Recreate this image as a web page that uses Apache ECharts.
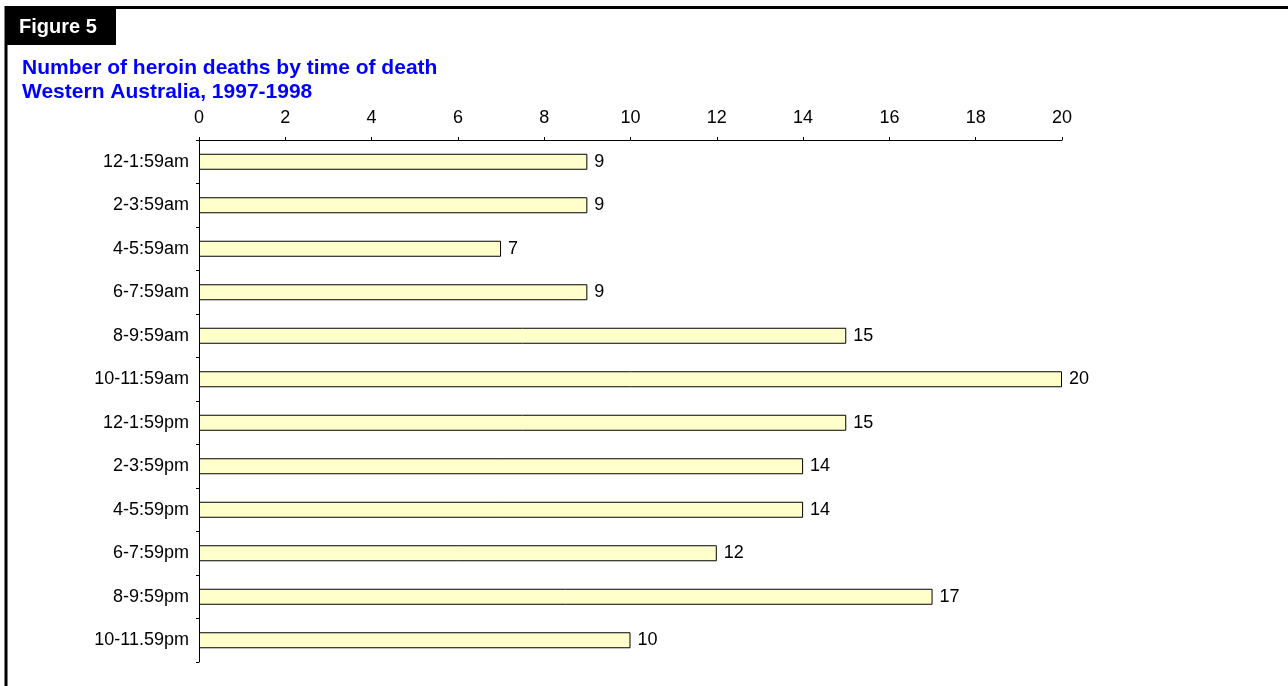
<!DOCTYPE html>
<html>
<head>
<meta charset="utf-8">
<script src="https://cdn.jsdelivr.net/npm/echarts@6/dist/echarts.min.js"></script>
<style>
  html, body { margin: 0; padding: 0; background: #fff; }
  #chart { width: 1288px; height: 686px; }
</style>
</head>
<body>
<div id="chart"></div>
<script>
// 时间段 和 死亡人数
const timeSlots = ['12-1:59am', '2-3:59am', '4-5:59am', '6-7:59am', '8-9:59am', '10-11:59am',
  '12-1:59pm', '2-3:59pm', '4-5:59pm', '6-7:59pm', '8-9:59pm', '10-11.59pm']
const deaths = [9, 9, 7, 9, 15, 20, 15, 14, 14, 12, 17, 10]
const titleLines = ['Number of heroin deaths by time of death', 'Western Australia, 1997-1998']
const figureLabel = 'Figure 5'

let myChart = echarts.init(document.getElementById('chart'))

let option = {
  animation: false,
  textStyle: { fontFamily: 'Liberation Sans, Arial, sans-serif' },
  graphic: [
    // 外框
    { type: 'rect', shape: { x: 6, y: 7.5, width: 1300, height: 700 }, style: { fill: 'none', stroke: '#000', lineWidth: 3 } },
    { type: 'rect', shape: { x: 6, y: 7, width: 110, height: 38 }, style: { fill: '#000' } },
    {
      type: 'text', left: 19, top: 17,
      style: { text: figureLabel, fill: '#fff', font: 'bold 20px Liberation Sans, Arial, sans-serif' }
    },
    {
      type: 'text', left: 22, top: 56,
      style: { text: titleLines.join('\n'), fill: '#0000ff', font: 'bold 21px Liberation Sans, Arial, sans-serif', lineHeight: 24 }
    }
  ],
  grid: {
    left: 199,
    top: 140,
    right: 226,
    bottom: 24
  },
  xAxis: {
    type: 'value',
    position: 'top',
    min: 0,
    max: 20,
    interval: 2,
    axisLine: { show: true, lineStyle: { color: '#000', width: 1 } },
    axisTick: { show: true, length: 3, lineStyle: { color: '#000' } },
    axisLabel: { color: '#000', fontSize: 18, margin: 13 },
    splitLine: { show: false }
  },
  yAxis: {
    type: 'category',
    inverse: true,
    data: timeSlots,
    axisLine: { show: true, lineStyle: { color: '#000', width: 1 } },
    axisTick: { show: true, length: 3, lineStyle: { color: '#000' } },
    axisLabel: { color: '#000', fontSize: 18, margin: 10 }
  },
  series: [
    {
      type: 'bar',
      data: deaths,
      barWidth: 16,
      itemStyle: { color: '#ffffcc', borderColor: '#000', borderWidth: 1 },
      label: { show: true, position: 'right', distance: 7, color: '#000', fontSize: 18 }
    }
  ]
}
myChart.setOption(option)
</script>
</body>
</html>
